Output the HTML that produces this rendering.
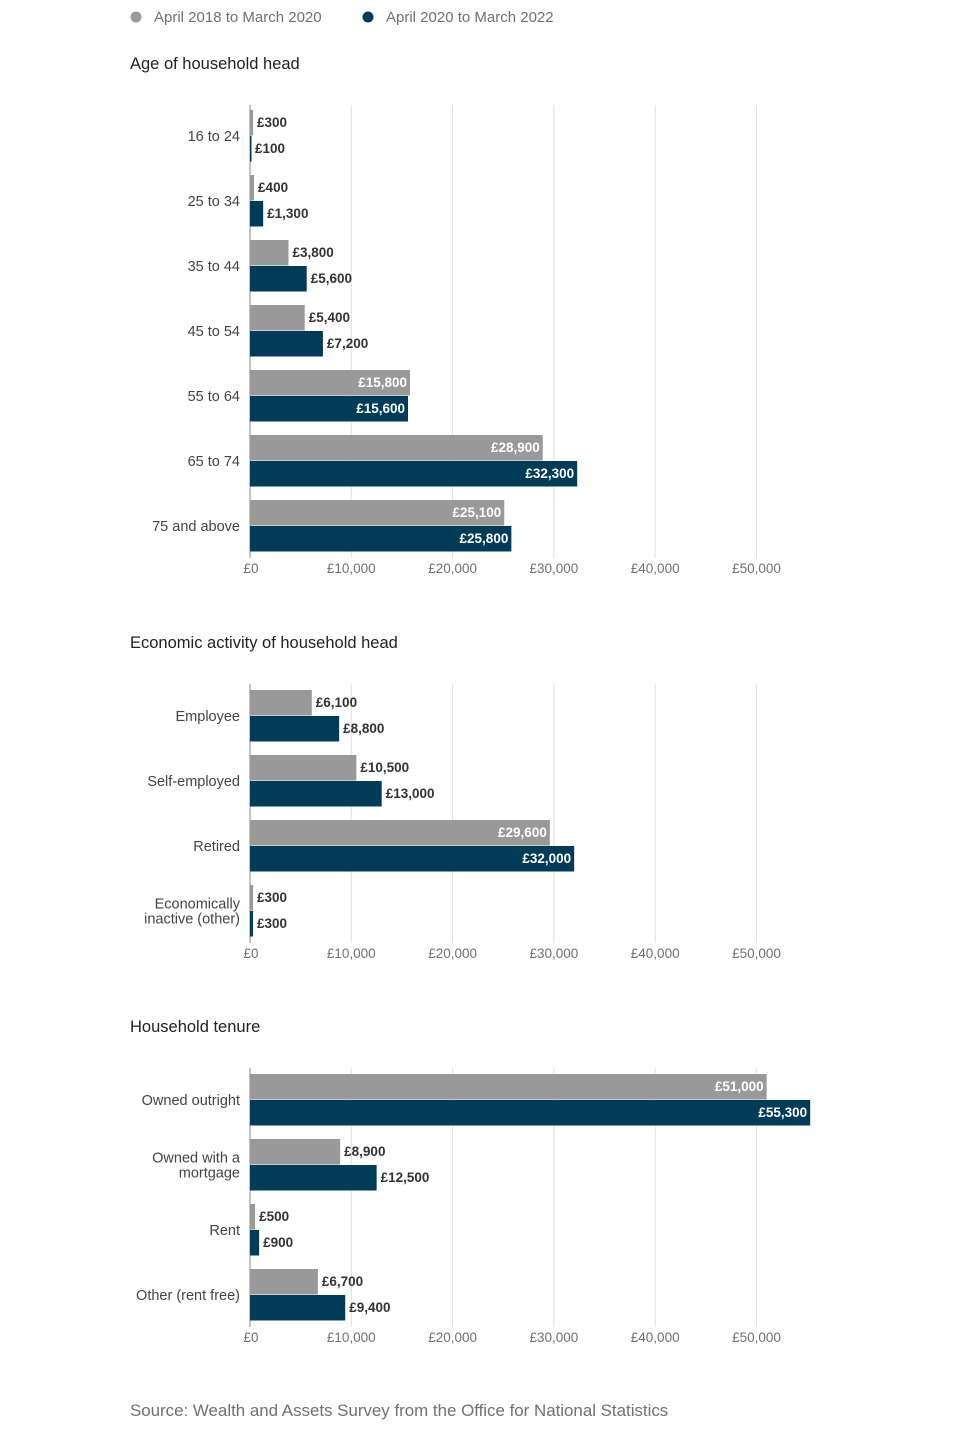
<!DOCTYPE html>
<html><head><meta charset="utf-8">
<style>
body{margin:0;background:#fff;font-family:"Liberation Sans",sans-serif;}
svg text{font-family:"Liberation Sans",sans-serif;}
</style></head>
<body>
<svg id="chart" width="960" height="1439" xmlns="http://www.w3.org/2000/svg">
<g>
<circle cx="136" cy="17" r="5.5" fill="#999"/>
<text x="154" y="22" font-size="15" fill="#707070">April 2018 to March 2020</text>
<circle cx="368" cy="17" r="5.5" fill="#003c57"/>
<text x="386" y="22" font-size="15" fill="#707070">April 2020 to March 2022</text>
</g>
<text x="130" y="1416" font-size="16.9" fill="#707070">Source: Wealth and Assets Survey from the Office for National Statistics</text>
</svg>
<script>
const ageCats=["16 to 24","25 to 34","35 to 44","45 to 54","55 to 64","65 to 74","75 and above"];
const age2018=[300,400,3800,5400,15800,28900,25100];
const age2020=[100,1300,5600,7200,15600,32300,25800];
const ecoCats=["Employee","Self-employed","Retired","Economically|inactive (other)"];
const eco2018=[6100,10500,29600,300];
const eco2020=[8800,13000,32000,300];
const tenCats=["Owned outright","Owned with a|mortgage","Rent","Other (rent free)"];
const ten2018=[51000,8900,500,6700];
const ten2020=[55300,12500,900,9400];
const ticks=[0,10000,20000,30000,40000,50000];
const tickLabels=["£0","£10,000","£20,000","£30,000","£40,000","£50,000"];

const svg=document.getElementById('chart');
const NS="http://www.w3.org/2000/svg";
const X0=250, PX=101.3/10000;
const xs=v=>X0+v*PX;
function mk(tag,attrs,parent){const e=document.createElementNS(NS,tag);for(const k in attrs)e.setAttribute(k,attrs[k]);(parent||svg).appendChild(e);return e;}
const fmt=v=>"£"+v.toLocaleString("en-GB");

function panel(id,title,titleY,gridTop,firstBar,cats,a,b){
  const g=mk('g',{});
  
  
  const t=mk('text',{x:130,y:titleY,'font-size':16.5,fill:'#222'},g);
  t.textContent=title;
  
  
  const bottom=firstBar+cats.length*65-12;
  ticks.forEach((v,i)=>{
    if(i>0){const l=mk('line',{x1:xs(v),x2:xs(v),y1:gridTop,y2:bottom+5,stroke:'#e0e0e0','stroke-width':1},g);
      
      }
    const tl=mk('text',{x:xs(v)+(i==0?1:0),y:bottom+20,'font-size':13.5,fill:'#707070','text-anchor':'middle'},g);
    tl.textContent=tickLabels[i];
    
    
  });
  const ax=mk('line',{x1:X0,x2:X0,y1:gridTop,y2:bottom+5,stroke:'#b0b0b0','stroke-width':1.5},g);
  
  
  cats.forEach((c,i)=>{
    const y=firstBar+i*65;
    [[a[i],'#999',y],[b[i],'#003c57',y+26]].forEach(([v,col,yy],k)=>{
      const r=mk('rect',{x:X0,y:yy,width:Math.max(1.5,xs(v)-X0),height:25.5,fill:col},g);
      
      
      const inside=v>14000;
      const lb=mk('text',{x:inside?xs(v)-3:xs(v)+4,y:yy+17,'font-size':13.5,'font-weight':'bold',fill:inside?'#fff':'#333','text-anchor':inside?'end':'start'},g);
      lb.textContent=fmt(v);
      
      
    });
    const parts=c.split('|');
    const cy=y+26;
    parts.forEach((p,j)=>{
      const ct=mk('text',{x:240,y:cy+5+(j-(parts.length-1)/2)*15,'font-size':14.5,fill:'#444','text-anchor':'end'},g);
      ct.textContent=p;
      
      
    });
  });
}
panel('age','Age of household head',69,105,110,ageCats,age2018,age2020);
panel('economic','Economic activity of household head',648,684,690,ecoCats,eco2018,eco2020);
panel('tenure','Household tenure',1032,1068,1074,tenCats,ten2018,ten2020);
</script>
</body></html>
